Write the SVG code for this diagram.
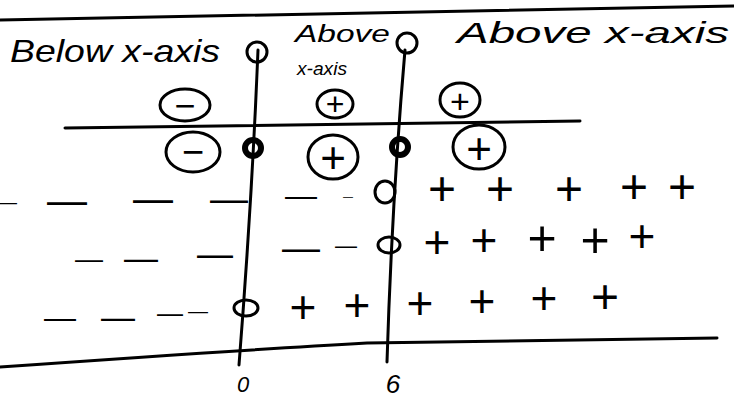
<svg xmlns="http://www.w3.org/2000/svg" width="734" height="403" viewBox="0 0 734 403">
<style>
.ln{fill:none;stroke:#000;stroke-width:3;stroke-linecap:round}
.hw{font-family:"Liberation Sans",sans-serif;font-style:italic;fill:#000}
.sg{font-family:"Liberation Sans",sans-serif;fill:#000;text-anchor:middle;dominant-baseline:central}
.ring{fill:none;stroke:#000;stroke-width:3}
.dot{fill:none;stroke:#000;stroke-width:6}
</style>
<rect width="734" height="403" fill="#fff"/>
<g id="frame">
<path class="ln" d="M0,20 L734,6"/>
<path class="ln" d="M65,128 L580,121"/>
<path class="ln" d="M0,367 Q240,350 367,343 L717,338"/>
</g>
<g id="axes">
<path class="ln" d="M258,50 Q252,200 239,365"/>
<path class="ln" d="M405,50 Q392,200 387,362"/>
<circle class="ring" cx="257" cy="52" r="10" stroke-width="4"/>
<circle class="ring" cx="407" cy="43" r="10" stroke-width="4"/>
<circle class="dot" cx="253" cy="148" r="8"/>
<circle class="dot" cx="400" cy="147" r="8"/>
<ellipse class="ring" cx="385" cy="192" rx="10" ry="11"/>
<ellipse class="ring" cx="389" cy="245" rx="11" ry="8"/>
<ellipse class="ring" cx="246" cy="308" rx="12" ry="8"/>
</g>
<g id="labels">
<text class="hw" x="10" y="62" font-size="32" textLength="210" lengthAdjust="spacingAndGlyphs">Below x-axis</text>
<text class="hw" x="295" y="42" font-size="24" textLength="95" lengthAdjust="spacingAndGlyphs">Above</text>
<text class="hw" x="297" y="75" font-size="18" textLength="50" lengthAdjust="spacingAndGlyphs">x-axis</text>
<text class="hw" x="457" y="43" font-size="30" textLength="272" lengthAdjust="spacingAndGlyphs">Above x-axis</text>
<text class="hw" x="243" y="392" font-size="22" text-anchor="middle">0</text>
<text class="hw" x="393" y="393" font-size="26" text-anchor="middle">6</text>
</g>
<g id="circled-signs">
<ellipse class="ring" cx="185" cy="105" rx="25" ry="16"/>
<text class="sg" x="185" y="105" font-size="36">−</text>
<ellipse class="ring" cx="335" cy="104" rx="18" ry="14"/>
<text class="sg" x="335" y="104" font-size="32">+</text>
<ellipse class="ring" cx="460" cy="100" rx="20" ry="17"/>
<text class="sg" x="460" y="101" font-size="34">+</text>
<ellipse class="ring" cx="193" cy="152" rx="27" ry="20"/>
<text class="sg" x="193" y="152" font-size="38">−</text>
<ellipse class="ring" cx="333" cy="157" rx="25" ry="22"/>
<text class="sg" x="333" y="157" font-size="44">+</text>
<ellipse class="ring" cx="479" cy="147" rx="26" ry="22"/>
<text class="sg" x="479" y="148" font-size="44">+</text>
</g>
<g id="row1">
<text class="sg" x="8" y="202" font-size="18">—</text>
<text class="sg" x="67" y="200" font-size="40">—</text>
<text class="sg" x="153" y="198" font-size="40">—</text>
<text class="sg" x="229" y="199" font-size="38">—</text>
<text class="sg" x="301" y="195" font-size="32">—</text>
<text class="sg" x="348" y="196" font-size="10">—</text>
<text class="sg" x="442" y="188" font-size="48">+</text>
<text class="sg" x="500" y="188" font-size="48">+</text>
<text class="sg" x="569" y="188" font-size="48">+</text>
<text class="sg" x="634" y="186" font-size="48">+</text>
<text class="sg" x="682" y="186" font-size="48">+</text>
</g>
<g id="row2">
<text class="sg" x="89" y="258" font-size="28">—</text>
<text class="sg" x="141" y="257" font-size="34">—</text>
<text class="sg" x="215" y="253" font-size="36">—</text>
<text class="sg" x="301" y="248" font-size="38">—</text>
<text class="sg" x="346" y="245" font-size="22">—</text>
<text class="sg" x="437" y="242" font-size="46">+</text>
<text class="sg" x="484" y="240" font-size="46">+</text>
<text class="sg" x="542" y="238" font-size="50">+</text>
<text class="sg" x="595" y="240" font-size="50">+</text>
<text class="sg" x="642" y="236" font-size="46">+</text>
</g>
<g id="row3">
<text class="sg" x="60" y="317" font-size="32">—</text>
<text class="sg" x="118" y="316" font-size="34">—</text>
<text class="sg" x="170" y="313" font-size="26">—</text>
<text class="sg" x="198" y="311" font-size="20">—</text>
<text class="sg" x="303" y="307" font-size="46">+</text>
<text class="sg" x="357" y="305" font-size="46">+</text>
<text class="sg" x="420" y="303" font-size="46">+</text>
<text class="sg" x="482" y="301" font-size="46">+</text>
<text class="sg" x="544" y="298" font-size="46">+</text>
<text class="sg" x="605" y="296" font-size="48">+</text>
</g>
</svg>
